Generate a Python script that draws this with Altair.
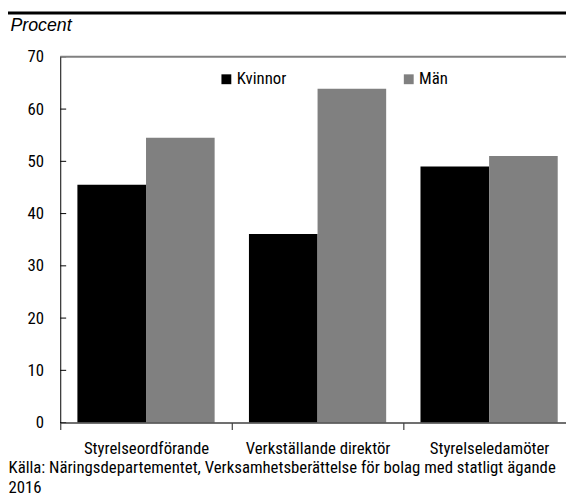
import altair as alt
import pandas as pd

categories = ["Styrelseordförande", "Verkställande direktör", "Styrelseledamöter"]
kvinnor = [45.5, 36.1, 49.0]
man = [54.5, 63.9, 51.0]
series = ["Kvinnor", "Män"]
colors = ["#000000", "#808080"]
y_ticks = [0, 10, 20, 30, 40, 50, 60, 70]
y_title = "Procent"
source_lines = [
    "Källa: Näringsdepartementet, Verksamhetsberättelse för bolag med statligt ägande",
    "2016",
]

rows = []
for c, k, m in zip(categories, kvinnor, man):
    rows.append({"Kategori": c, "Kön": series[0], "Andel": k})
    rows.append({"Kategori": c, "Kön": series[1], "Andel": m})
df = pd.DataFrame(rows)

W, H = 513, 371
FONT = "Roboto Condensed, Liberation Sans Narrow, DejaVu Sans Condensed, sans-serif"
FS = 17
y_scale = alt.Scale(domain=[0, 70], nice=False, zero=True)

y_axis = alt.Axis(
    title=y_title, values=y_ticks, ticks=False, grid=False,
    labelPadding=17, domainColor="#000000", zindex=1,
    titleAngle=0, titleAlign="left", titleBaseline="alphabetic",
    titleX=-51, titleY=-27, titleFont="Liberation Sans, Arial, sans-serif",
    titleFontStyle="italic", titleFontSize=18, titleFontWeight="normal",
)

bars = alt.Chart(df).mark_bar().encode(
    x=alt.X(
        "Kategori:N",
        sort=categories,
        scale=alt.Scale(range=[0, 522], paddingInner=0, paddingOuter=0),
        axis=alt.Axis(
            title=source_lines, labelAngle=0, tickBand="extent", tickSize=7,
            labelPadding=11, domainColor="#404040", domainWidth=1.5,
            tickColor="#404040", tickWidth=1.2, zindex=1,
            titleAnchor="start", titleAlign="left", titleBaseline="alphabetic",
            titleX=-53, titleY=51, titleLineHeight=20, titleFont=FONT,
            titleFontSize=FS, titleFontWeight="normal",
        ),
    ),
    xOffset=alt.XOffset("Kön:N", sort=series,
                        scale=alt.Scale(paddingOuter=0.25, paddingInner=0)),
    y=alt.Y("Andel:Q", scale=y_scale, axis=y_axis),
    color=alt.Color(
        "Kön:N", sort=series,
        scale=alt.Scale(domain=series, range=colors),
        legend=alt.Legend(
            title=None, orient="none", legendX=160, legendY=14,
            direction="horizontal", symbolType="square", symbolSize=100,
            symbolStrokeWidth=0, labelFontSize=FS, labelFont=FONT,
            labelOffset=2, columnPadding=115, padding=0, symbolOpacity=1,
        ),
    ),
)

ticks = alt.Chart(pd.DataFrame({"Andel": y_ticks})).mark_rule(
    color="black", strokeWidth=1
).encode(
    y=alt.Y("Andel:Q", scale=y_scale, axis=y_axis),
    x=alt.value(0), x2=alt.value(6),
)

top = alt.Chart(pd.DataFrame({"Andel": [70]})).mark_rule(
    color="#808080", strokeWidth=2
).encode(
    y=alt.Y("Andel:Q", scale=y_scale, axis=y_axis),
    x=alt.value(0), x2=alt.value(W),
)

header = alt.Chart(pd.DataFrame({"v": [0]})).mark_rule(
    color="black", strokeWidth=3
).encode(
    y=alt.value(-44.5), x=alt.value(-53), x2=alt.value(W),
)

chart = alt.layer(bars, ticks, top, header).properties(
    width=W, height=H,
    autosize=alt.AutoSizeParams(type="none"),
    padding={"left": 53, "top": 46, "right": 0, "bottom": 76},
    background="white",
).configure_view(stroke=None).configure_axis(
    labelFont=FONT, labelFontSize=FS, labelColor="black", titleColor="black",
)

chart.save("out.html", embed_options={"renderer": "svg", "actions": False})
